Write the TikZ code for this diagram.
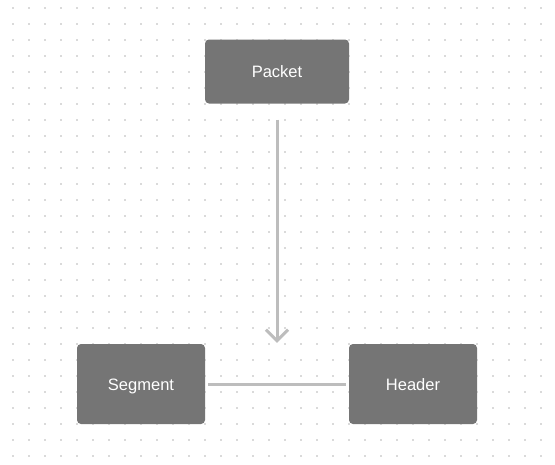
\documentclass[tikz,border=0pt]{standalone}
\usepackage{fontspec}
\setmainfont{Liberation Sans}
\usetikzlibrary{arrows.meta}
\definecolor{boxfill}{HTML}{757575}
\definecolor{linecol}{HTML}{BDBDBD}
\definecolor{dotcol}{HTML}{DADADA}
\begin{document}
\begin{tikzpicture}[x=1pt,y=-1pt,
  box/.style={fill=boxfill,rounded corners=4pt,text=white,inner sep=0pt,
    text height=13pt,text depth=1pt,
    font=\fontsize{16.5}{19}\selectfont},
  conn/.style={draw=linecol,line width=3pt}]
\useasboundingbox[fill=white] (0,0) rectangle (555,464);
\foreach \i in {0,...,34}{
  \foreach \j in {0,...,28}{
    \fill[dotcol] (12.5+16*\i-1,7.5+16*\j-1) rectangle ++(2,2);
  }
}
\node[box,minimum width=144pt,minimum height=64pt] (packet) at (277,71.5) {Packet};
\node[box,minimum width=128pt,minimum height=80pt] (segment) at (141,384) {Segment};
\node[box,minimum width=128pt,minimum height=80pt] (header) at (413,384) {Header};
\draw[conn,-{Straight Barb[length=11pt,width=22pt]},shorten <=16pt,shorten >=1pt] (packet.south) -- (packet.south |- segment.north);
\draw[conn,shorten <=3pt,shorten >=3pt] (segment.east) -- (header.west);
\end{tikzpicture}
\end{document}
